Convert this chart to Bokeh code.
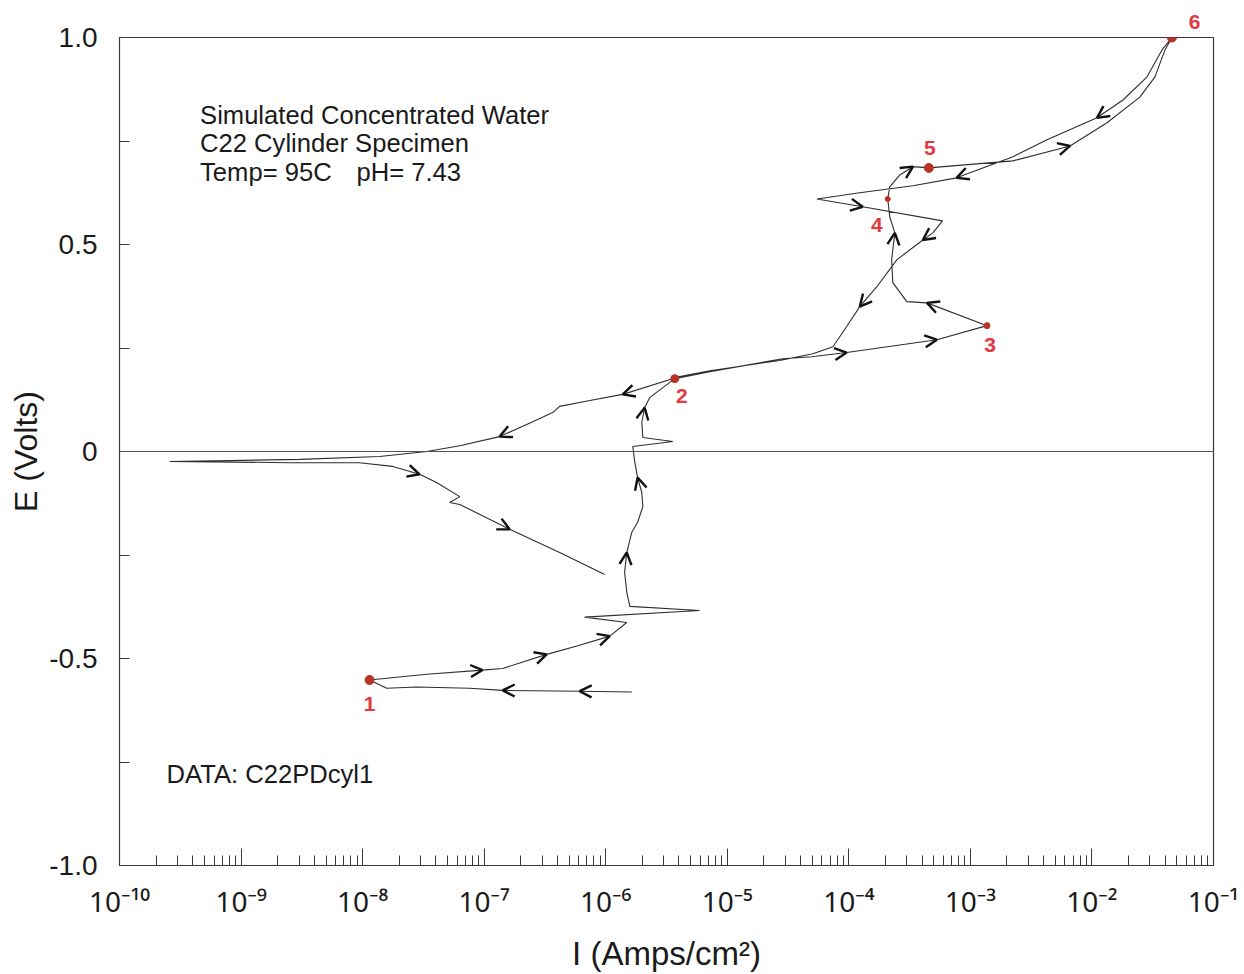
from bokeh.plotting import figure
from bokeh.models import (ColumnDataSource, Arrow, OpenHead, Span, FixedTicker,
                          CustomJSTickFormatter, Label)
from bokeh.embed import file_html
from bokeh.resources import INLINE

# ---------------- data (current density A/cm^2, potential V) ----------------
# leg 1: start of scan, going to point 1
leg1_I = [1.64e-6, 6.1e-7, 1.42e-7, 7.6e-8, 2.78e-8, 1.58e-8, 1.14e-8]
leg1_E = [-0.581, -0.579, -0.577, -0.572, -0.569, -0.572, -0.552]
# leg 2: point 1 -> point 2
leg2_I = [3.37e-8, 9.7e-8, 1.42e-7, 3.27e-7, 5.8e-7, 1.08e-6, 1.49e-6, 6.7e-7, 5.9e-6,
          1.58e-6, 1.49e-6, 1.43e-6, 1.49e-6, 1.64e-6, 1.83e-6, 2.02e-6, 1.98e-6,
          1.83e-6, 1.73e-6, 1.67e-6, 3.56e-6, 2.02e-6, 1.98e-6, 2.09e-6, 2.30e-6, 3.70e-6]
leg2_E = [-0.538, -0.528, -0.524, -0.490, -0.470, -0.446, -0.413, -0.400, -0.384,
          -0.374, -0.340, -0.292, -0.244, -0.195, -0.171, -0.133, -0.099,
          -0.063, -0.024, 0.012, 0.024, 0.034, 0.070, 0.106, 0.130, 0.176]
# leg 3: point 2 -> point 3
leg3_I = [7.2e-6, 2.86e-5, 4.95e-5, 9.6e-5, 5.3e-4, 1.37e-3]
leg3_E = [0.193, 0.224, 0.229, 0.239, 0.270, 0.304]
# leg 4: point 3 -> point 4 -> point 5
leg4_I = [4.39e-4, 3.0e-4, 2.30e-4, 2.25e-4, 2.39e-4, 2.17e-4, 2.09e-4, 2.17e-4,
          2.63e-4, 3.37e-4, 4.55e-4]
leg4_E = [0.359, 0.362, 0.408, 0.463, 0.528, 0.567, 0.610, 0.639, 0.668, 0.688, 0.685]
# leg 5: point 5 -> point 6
leg5_I = [2.24e-3, 6.6e-3, 1.33e-2, 2.48e-2, 3.30e-2, 3.99e-2, 4.55e-2]
leg5_E = [0.702, 0.738, 0.794, 0.856, 0.905, 0.970, 1.000]
# leg 6: reverse scan from point 6
leg6_I = [3.77e-2, 2.84e-2, 1.80e-2, 1.10e-2, 4.27e-3, 2.24e-3, 7.7e-4, 3.37e-4, 1.23e-4,
          5.46e-5, 1.30e-4, 5.9e-4, 4.91e-4, 4.06e-4, 2.48e-4, 1.70e-4, 1.23e-4, 9.6e-5,
          7.4e-5, 5.06e-5, 2.70e-5, 7.2e-6, 4.06e-6, 1.38e-6, 7.4e-7, 4.18e-7, 3.66e-7,
          2.51e-7, 1.34e-7, 6.3e-8, 3.37e-8, 1.38e-8, 3.03e-9, 8.0e-10, 2.58e-10]
leg6_E = [0.970, 0.905, 0.849, 0.806, 0.753, 0.712, 0.661, 0.642, 0.625,
          0.610, 0.591, 0.557, 0.528, 0.511, 0.463, 0.398, 0.350, 0.302,
          0.253, 0.236, 0.220, 0.195, 0.181, 0.138, 0.123, 0.109, 0.094,
          0.072, 0.036, 0.014, 0.000, -0.012, -0.019, -0.022, -0.024]
# leg 7: cathodic branch after current reversal
leg7_I = [2.5e-9, 9.4e-9, 1.77e-8, 2.94e-8, 4.06e-8, 6.3e-8, 5.2e-8, 6.3e-8, 1.62e-7,
          4.18e-7, 9.8e-7]
leg7_E = [-0.027, -0.027, -0.036, -0.055, -0.075, -0.109, -0.123, -0.128, -0.188,
          -0.244, -0.297]

# indices (in the joined scan) of the numbered points and of the direction arrows
point_idx = [6, 32, 38, 45, 49, 56]
point_lbl = ["1", "2", "3", "4", "5", "6"]
arrow_idx = [1, 2, 8, 10, 12, 19, 24, 30, 36, 37, 39, 43, 48, 51, 60, 63, 67, 70, 73,
             80, 85, 95, 100]

x_exponents = list(range(-10, 0))
y_ticks = [-1.0, -0.5, 0.0, 0.5, 1.0]
y_minor = [-0.75, -0.25, 0.25, 0.75]

note_lines = ["Simulated Concentrated Water", "C22 Cylinder Specimen"]
note_temp = "Temp= 95C"
note_ph = "pH= 7.43"
note_data = "DATA: C22PDcyl1"

# ---------------- build ----------------
scan_I = leg1_I + leg2_I + leg3_I + leg4_I + leg5_I + leg6_I + leg7_I
scan_E = leg1_E + leg2_E + leg3_E + leg4_E + leg5_E + leg6_E + leg7_E

FONT = "Liberation Sans"
INK = "#1a1a1a"
RED_TXT = "#e2383f"

# the label of the last point (6) sits above the frame, so it is the plot title
p = figure(width=1244, height=974, x_axis_type="log", x_range=(1e-10, 1e-1),
           y_range=(-1.0, 1.0), output_backend="svg", toolbar_location=None,
           title=point_lbl[-1],
           min_border_left=119, min_border_right=31, min_border_top=37,
           min_border_bottom=108)
p.title.align = "right"
p.title.offset = 13
p.title.standoff = 17
p.title.text_font = FONT
p.title.text_font_size = "21px"
p.title.text_font_style = "bold"
p.title.text_color = RED_TXT

p.xgrid.visible = False
p.ygrid.visible = False
p.outline_line_color = "#3a3a3a"
p.outline_line_width = 1.2
p.background_fill_color = "white"
p.border_fill_color = "white"

# x axis: decade labels as 10 with superscript exponent
decades = [10.0 ** e for e in x_exponents]
minors = [m * 10.0 ** e for e in x_exponents[:-1] for m in range(2, 10)]
p.xaxis.ticker = FixedTicker(ticks=decades, minor_ticks=minors)
p.xaxis.formatter = CustomJSTickFormatter(code="""
const sup = {'-': '\u207b', '0': '\u2070', '1': '\u00b9', '2': '\u00b2', '3': '\u00b3',
             '4': '\u2074', '5': '\u2075', '6': '\u2076', '7': '\u2077', '8': '\u2078',
             '9': '\u2079'};
const e = String(Math.round(Math.log10(tick)));
return '10' + e.split('').map(c => sup[c]).join('');
""")
p.xaxis.major_label_text_font = "Noto Sans"
p.xaxis.major_label_text_font_size = "28px"
p.xaxis.major_label_text_color = INK
p.xaxis.major_tick_in = 17
p.xaxis.major_tick_out = 0
p.xaxis.minor_tick_in = 10
p.xaxis.minor_tick_out = 0
p.xaxis.major_label_standoff = 16
p.xaxis.axis_line_color = "#3a3a3a"
p.xaxis.major_tick_line_color = "#3a3a3a"
p.xaxis.minor_tick_line_color = "#3a3a3a"
p.xaxis.axis_label = "I (Amps/cm\u00b2)"
p.xaxis.axis_label_text_font = FONT
p.xaxis.axis_label_text_font_size = "33px"
p.xaxis.axis_label_text_font_style = "normal"
p.xaxis.axis_label_text_color = INK
p.xaxis.axis_label_standoff = 12

# y axis
p.yaxis.ticker = FixedTicker(ticks=y_ticks, minor_ticks=y_minor)
p.yaxis.formatter = CustomJSTickFormatter(code="return tick == 0 ? '0' : tick.toFixed(1)")
p.yaxis.major_tick_in = 10
p.yaxis.major_tick_out = 0
p.yaxis.minor_tick_in = 10
p.yaxis.minor_tick_out = 0
p.yaxis.major_label_standoff = 22
p.yaxis.major_label_text_font = FONT
p.yaxis.major_label_text_font_size = "28px"
p.yaxis.major_label_text_color = INK
p.yaxis.axis_line_color = "#3a3a3a"
p.yaxis.major_tick_line_color = "#3a3a3a"
p.yaxis.minor_tick_line_color = "#3a3a3a"
p.yaxis.axis_label = "E (Volts)"
p.yaxis.axis_label_text_font = FONT
p.yaxis.axis_label_text_font_size = "32px"
p.yaxis.axis_label_text_font_style = "normal"
p.yaxis.axis_label_text_color = INK
p.yaxis.axis_label_standoff = 2

# zero line
p.add_layout(Span(location=0, dimension="width", line_color="#555555", line_width=1.2))

# scan curve
p.line(scan_I, scan_E, line_color="#2e2e2e", line_width=1.1)

# direction arrows
arr_src = ColumnDataSource(dict(
    xs=[scan_I[k - 1] for k in arrow_idx], ys=[scan_E[k - 1] for k in arrow_idx],
    xe=[scan_I[k] for k in arrow_idx], ye=[scan_E[k] for k in arrow_idx]))
p.add_layout(Arrow(x_start="xs", y_start="ys", x_end="xe", y_end="ye", source=arr_src,
                   line_alpha=0, start=None,
                   end=OpenHead(size=12, line_width=2.4, line_color="#111111")))

# numbered points (labels 1-5 inside the frame)
pt_size = [9, 8, 6, 5, 9, 9]
pt_dx = [0, 7, 3, -11, 1]
pt_dy = [-24, -17, -19, -26, 20]
pts_src = ColumnDataSource(dict(x=[scan_I[k] for k in point_idx],
                                y=[scan_E[k] for k in point_idx], size=pt_size))
p.scatter("x", "y", size="size", source=pts_src, color="#b83227")
for k, lbl, dx, dy in zip(point_idx[:-1], point_lbl[:-1], pt_dx, pt_dy):
    p.add_layout(Label(x=scan_I[k], y=scan_E[k], text=lbl, x_offset=dx, y_offset=dy,
                       text_align="center", text_baseline="middle", text_font=FONT,
                       text_font_style="bold", text_font_size="21px", text_color=RED_TXT))

# notes
for i, line in enumerate(note_lines):
    p.add_layout(Label(x=4.6e-10, y=0.814 - 0.070 * i, text=line, text_font=FONT,
                       text_font_size="25.6px", text_color=INK, text_baseline="alphabetic"))
p.add_layout(Label(x=4.6e-10, y=0.674, text=note_temp, text_font=FONT,
                   text_font_size="25.6px", text_color=INK, text_baseline="alphabetic"))
p.add_layout(Label(x=8.9e-9, y=0.674, text=note_ph, text_font=FONT,
                   text_font_size="25.6px", text_color=INK, text_baseline="alphabetic"))
p.add_layout(Label(x=2.44e-10, y=-0.779, text=note_data, text_font=FONT,
                   text_font_size="25.6px", text_color=INK, text_baseline="alphabetic"))

open("out.html", "w").write(file_html(p, INLINE))
